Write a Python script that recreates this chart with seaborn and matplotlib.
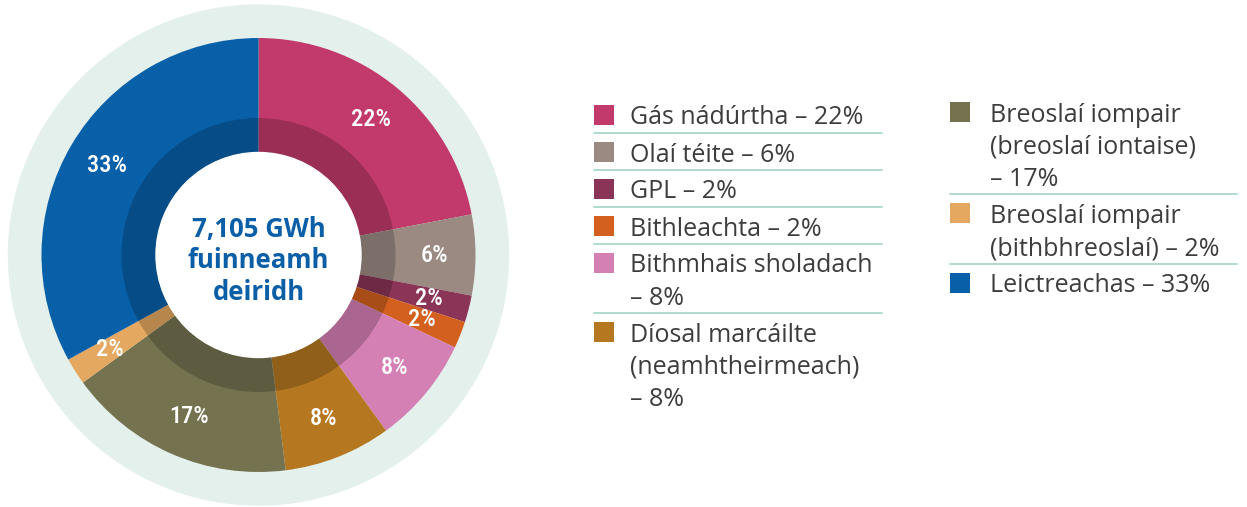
import matplotlib
matplotlib.use("Agg")
import matplotlib.pyplot as plt
import seaborn as sns
import numpy as np
from matplotlib.patches import Circle, Rectangle, Wedge

# data
categories = [
    "Gás nádúrtha – 22%",
    "Olaí téite – 6%",
    "GPL – 2%",
    "Bithleachta – 2%",
    "Bithmhais sholadach\n– 8%",
    "Díosal marcáilte\n(neamhtheirmeach)\n– 8%",
    "Breoslaí iompair\n(breoslaí iontaise)\n– 17%",
    "Breoslaí iompair\n(bithbhreoslaí) – 2%",
    "Leictreachas – 33%",
]
shares = [22, 6, 2, 2, 8, 8, 17, 2, 33]
slice_labels = ["22%", "6%", "2%", "2%", "8%", "8%", "17%", "2%", "33%"]
colors = ["#C23A6B", "#9B8A82", "#8A3457", "#D3601F", "#D580B4",
          "#B57821", "#757250", "#E4A860", "#0860A8"]
center_text = "7,105 GWh\nfuinneamh\ndeiridh"

sns.set_style("white")
plt.rcParams["font.family"] = ["Open Sans", "DejaVu Sans"]

W, H = 1247, 507
fig = plt.figure(figsize=(W / 100, H / 100), dpi=100)
ax = fig.add_axes([0, 0, 1, 1])

cx, cy = 258.5, H - 255
R_out, R_dark, R_hole = 217, 137, 102.5

# pale background ring
ax.add_patch(Circle((cx, cy), 250, color="#E4F0EC", zorder=0))

ax.pie(shares, colors=colors, startangle=90, counterclock=False,
       center=(cx, cy), radius=R_out,
       wedgeprops=dict(width=R_out - R_hole, linewidth=0))

# darker inner band
ax.add_patch(Wedge((cx, cy), R_dark, 0, 360, width=R_dark - R_hole,
                   facecolor="black", alpha=0.2, linewidth=0, zorder=3))
ax.add_patch(Circle((cx, cy), R_hole, color="white", zorder=4))

# percent labels
cum = np.cumsum([0] + shares[:-1])
for s, c, lab in zip(shares, cum, slice_labels):
    ang = np.deg2rad(90 - 3.6 * (c + s / 2))
    r = 176
    ax.text(cx + r * np.cos(ang), cy + r * np.sin(ang), lab,
            ha="center", va="center", color="white", fontsize=17.5,
            family=["Roboto Condensed", "Roboto"], fontweight="medium", zorder=5)

ax.text(cx, cy - 6, center_text, ha="center", va="center", color="#0B5FA6",
        fontsize=18.5, fontweight="bold", linespacing=1.22, zorder=6)

# legend, two columns
line_h = 32.2
cols = [(categories[:6], colors[:6], 594, 630, 882, 115),
        (categories[6:], colors[6:], 950, 990, 1237, 112)]
for labs, cols_, x_sq, x_txt, x_end, y0 in cols:
    y = y0
    for i, (lab, col) in enumerate(zip(labs, cols_)):
        lines = lab.split("\n")
        ax.add_patch(Rectangle((x_sq, H - (y + 10)), 20, 20, color=col, linewidth=0))
        for k, ln in enumerate(lines):
            ax.text(x_txt, H - (y + k * line_h), ln, ha="left", va="center_baseline",
                    color="#3D3D3D", fontsize=18)
        y_sep = y + (len(lines) - 1) * line_h + 18
        if i < len(labs) - 1:
            ax.plot([x_sq, x_end], [H - y_sep, H - y_sep], color="#A9D8CB", lw=1.3)
        y = y_sep + 19

ax.set_xlim(0, W)
ax.set_ylim(0, H)
ax.set_aspect("equal")
ax.axis("off")

fig.savefig("out.png", dpi=100)
